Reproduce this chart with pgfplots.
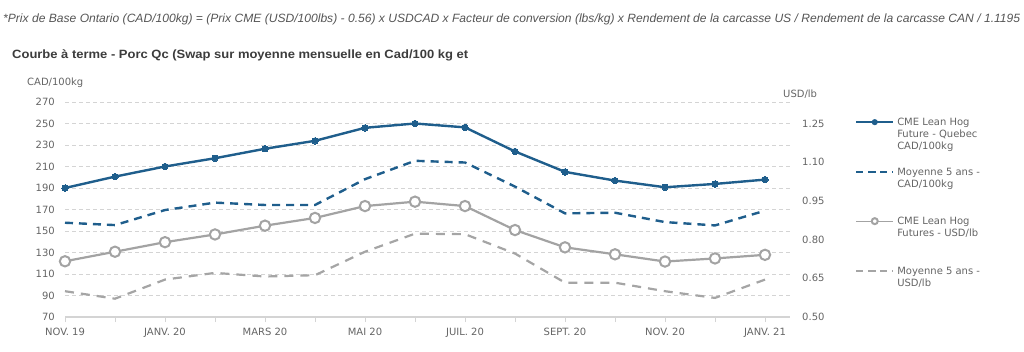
\documentclass[border=0pt]{standalone}
\usepackage{pgfplots}
\pgfplotsset{compat=1.18}
\usepackage{fontspec}
\usepackage{graphicx}
\setmainfont{DejaVu Sans}
\newfontfamily\arial{Liberation Sans}
\definecolor{cblue}{RGB}{31,94,140}
\definecolor{cgray}{RGB}{163,163,163}
\definecolor{cdash}{RGB}{165,165,165}
\definecolor{ctext}{RGB}{100,100,100}
\definecolor{ctop}{RGB}{85,85,85}
\definecolor{ctitle}{RGB}{60,60,60}
\definecolor{cgrid}{RGB}{212,212,212}

\pgfplotstableread{
x cme cmeavg
0 190.0 157.7
1 200.6 155.5
2 210.0 169.5
3 217.7 176.4
4 226.5 174.2
5 233.9 174.2
6 246.0 198.2
7 250.0 215.3
8 246.4 213.7
9 224.0 191.3
10 205.0 166.4
11 196.9 167.0
12 190.7 158.3
13 193.8 155.2
14 197.8 168.9
}\cadtable

\pgfplotstableread{
x usd usdavg
0 0.716 0.600
1 0.753 0.571
2 0.790 0.645
3 0.820 0.671
4 0.854 0.657
5 0.884 0.662
6 0.930 0.753
7 0.947 0.823
8 0.930 0.821
9 0.837 0.746
10 0.770 0.633
11 0.743 0.633
12 0.715 0.600
13 0.727 0.574
14 0.741 0.645
}\usdtable

\newcommand{\lgtext}[1]{\parbox[t]{115pt}{\raggedright\strut #1\strut}}

\begin{document}
\begin{tikzpicture}
\useasboundingbox (0pt,0pt) rectangle (1024pt,-351pt);

\node[anchor=base west, inner sep=0pt, text=ctop] at (3pt,-22pt)
 {\resizebox{1017pt}{\height}{\arial\itshape\fontsize{12}{14}\selectfont *Prix de Base Ontario (CAD/100kg) = (Prix CME (USD/100lbs) - 0.56) x USDCAD x Facteur de conversion (lbs/kg) x Rendement de la carcasse US / Rendement de la carcasse CAN / 1.1195}};
\node[anchor=base west, inner sep=0pt, text=ctitle] at (12pt,-58pt)
 {\resizebox{456pt}{\height}{\arial\bfseries\fontsize{12}{14}\selectfont Courbe à terme - Porc Qc (Swap sur moyenne mensuelle en Cad/100 kg et}};

\begin{axis}[
  at={(65pt,-317pt)}, anchor=south west, scale only axis,
  width=725pt, height=215pt,
  xmin=0, xmax=14.5, ymin=70, ymax=270,
  axis x line*=bottom, axis y line*=left,
  x axis line style={cgrid, line width=2pt, -},
  y axis line style={draw=none},
  xtick={0,...,14},
  xticklabels={NOV. 19,,JANV. 20,,MARS 20,,MAI 20,,JUIL. 20,,SEPT. 20,,NOV. 20,,JANV. 21},
  ytick={70,90,...,270},
  ymajorgrids,
  grid style={cgrid, dash pattern=on 4pt off 3pt, line width=0.8pt},
  xtick align=outside, ytick align=inside,
  major tick length=5pt,
  xtick style={cgrid, line width=1pt},
  ytick style={draw=none},
  tick label style={font=\fontsize{10}{12}\selectfont, text=ctext},
  xticklabel style={yshift=-3pt},
  yticklabel style={inner sep=0pt, anchor=east, xshift=-10pt},
  /pgf/number format/assume math mode=true,
  clip=false,
]
\addplot[cblue, line width=2.4pt, mark=*, mark size=3.2pt, mark options={solid, fill=cblue, draw=cblue, line width=0pt}] table[x=x, y=cme] {\cadtable};
\addplot[cblue, line width=2.4pt, dash pattern=on 8pt off 6pt] table[x=x, y=cmeavg] {\cadtable};
\end{axis}

\begin{axis}[
  at={(65pt,-317pt)}, anchor=south west, scale only axis,
  width=725pt, height=215pt,
  xmin=0, xmax=14.5, ymin=0.5, ymax=1.333333,
  axis x line=none, axis y line*=right,
  y axis line style={draw=none},
  ytick={0.5,0.65,0.8,0.95,1.1,1.25},
  ytick style={draw=none}, ytick align=inside,
  tick label style={font=\fontsize{10}{12}\selectfont, text=ctext},
  yticklabel style={/pgf/number format/fixed, /pgf/number format/fixed zerofill, /pgf/number format/precision=2, inner sep=0pt, anchor=west, xshift=12pt},
  /pgf/number format/assume math mode=true,
  clip=false,
  legend cell align=left,
  legend style={at={(axis description cs:1.0897,0.93)}, anchor=north west, draw=none, fill=none,
    inner sep=0pt, row sep=39.6pt, column sep=3pt,
    font=\fontsize{10}{12}\selectfont, text=ctext,
    nodes={inner sep=0pt}, cells={anchor=base west}},
  legend image code/.code={\draw[mark repeat=2,mark phase=2,#1] plot coordinates {(0pt,3.5pt)(18.5pt,3.5pt)(37pt,3.5pt)};},
]
\addlegendimage{cblue, line width=2pt, mark=*, mark size=2pt, mark options={solid, fill=cblue, draw=cblue}}
\addlegendentry{\lgtext{CME Lean Hog\\Future - Quebec\\CAD/100kg}}
\addlegendimage{cblue, line width=2pt, dash pattern=on 7pt off 5pt}
\addlegendentry{\lgtext{Moyenne 5 ans -\\CAD/100kg\\}}
\addplot[cgray, line width=2.2pt, mark=*, mark size=5.2pt, mark options={solid, fill=white, draw=cgray, line width=2pt}, legend image post style={mark size=3pt, line width=1.2pt}] table[x=x, y=usd] {\usdtable};
\addlegendentry{\lgtext{CME Lean Hog\\Futures - USD/lb\\}}
\addplot[cdash, line width=2.2pt, dash pattern=on 9pt off 7pt, legend image post style={line width=2pt, dash pattern=on 7pt off 5pt}] table[x=x, y=usdavg] {\usdtable};
\addlegendentry{\lgtext{Moyenne 5 ans -\\USD/lb\\}}
\end{axis}

\node[anchor=west, inner sep=0pt, text=ctext, font=\fontsize{10}{12}\selectfont] at (27pt,-83pt) {CAD/100kg};
\node[anchor=west, inner sep=0pt, text=ctext, font=\fontsize{10}{12}\selectfont] at (783pt,-94pt) {USD/lb};
\end{tikzpicture}
\end{document}
